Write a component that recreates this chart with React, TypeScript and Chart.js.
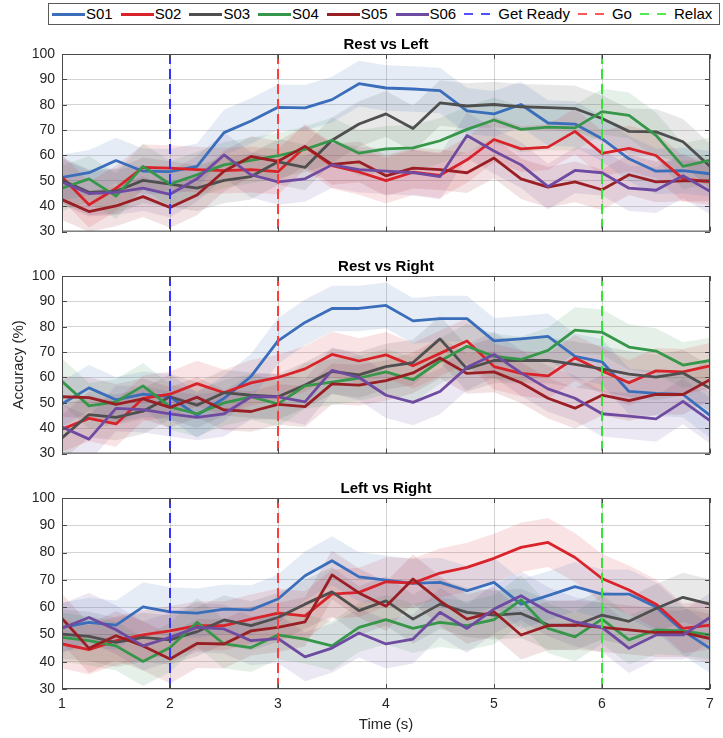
import React, { useEffect, useRef } from "react";
import { Chart, registerables } from "chart.js";
Chart.register(...registerables);

const FONT = '"Liberation Sans", Arial, Helvetica, sans-serif';
const TEXT = "#262626";

const TIMES = [1, 1.25, 1.5, 1.75, 2, 2.25, 2.5, 2.75, 3, 3.25, 3.5, 3.75, 4, 4.25, 4.5, 4.75, 5, 5.25, 5.5, 5.75, 6, 6.25, 6.5, 6.75, 7];
const SUBJECTS = ["S01", "S02", "S03", "S04", "S05", "S06"];
const COLORS = ["#3a6ebb", "#d9232b", "#4f4f4f", "#36964a", "#9a1f24", "#6e4aa0"];
const EVENT_LABELS = ["Get Ready", "Go", "Relax"];
const EVENT_TIMES = [2, 3, 6];
const EVENT_COLORS = ["#3333ff", "#ff3b3b", "#33e633"];
const PANEL_TITLES = ["Rest vs Left", "Rest vs Right", "Left vs Right"];

// Rest vs Left
const RL_S01 = [51.4, 53.2, 58, 53.8, 53.6, 55.7, 69, 73.6, 79, 78.8, 82, 88.3, 86.6, 86.2, 85.6, 77.6, 76.4, 80.1, 72.8, 72.4, 66.6, 58.7, 53.8, 54, 52.8];
const RL_S02 = [51.5, 40.6, 47, 55.3, 55, 54.4, 54, 54.4, 53.6, 63.4, 56, 53.5, 50.1, 53.4, 52.2, 58.3, 66.3, 62.6, 63.3, 69.5, 60.8, 62.8, 60, 50.8, 49.6];
const RL_S03 = [50.2, 45.5, 45.9, 50.2, 48.7, 47.1, 50.2, 51.7, 57.5, 55.3, 66, 72.4, 76.4, 70.6, 80.7, 79.5, 80.1, 79.2, 78.9, 78.5, 74.6, 69.5, 69.3, 65.4, 55.7];
const RL_S04 = [47.1, 50.8, 44, 55.7, 48.7, 52.4, 56.3, 58.1, 59.9, 62.4, 66, 60.9, 62.6, 63, 65.8, 70.3, 74, 70.3, 71.2, 70.9, 77.3, 75.8, 67.9, 55.7, 58.1];
const RL_S05 = [42.6, 37.9, 40.1, 43.8, 39.5, 44.4, 53.8, 59.6, 57.7, 63.6, 56.5, 57.5, 52, 55, 54.4, 53.2, 59, 50.8, 47.5, 49.6, 46.5, 52.4, 49.6, 50, 50];
const RL_S06 = [49.6, 45, 45.5, 47.1, 44.7, 50.8, 60.2, 52.4, 49.6, 50.8, 56.3, 54.4, 53.8, 53.2, 51.7, 67.9, 61.8, 56.3, 47.7, 54.1, 53.2, 47.1, 46.3, 52, 45.9];
const RL_SD = [9, 9, 9, 9, 8, 9];

// Rest vs Right
const RR_S01 = [49.6, 55.9, 51.2, 53.4, 52.4, 45.1, 51.8, 60.4, 74.4, 81.7, 87.2, 87.2, 88.4, 82.3, 83.2, 83.2, 74.4, 75.2, 76.2, 68.3, 66.2, 54.5, 53.7, 53.3, 45.1];
const RR_S02 = [39.6, 43.9, 41.7, 51.8, 53.4, 57.6, 54, 57.9, 60, 63.4, 69.1, 66.5, 68.9, 64.6, 69.5, 74.4, 64.3, 61.6, 60.6, 67.7, 62.6, 57.9, 62.6, 62.2, 64.6];
const RR_S03 = [36.2, 45.4, 44.3, 46.7, 52.4, 49.1, 54, 53, 52.4, 57, 62.4, 61, 64.3, 65.9, 75.2, 63.4, 66.7, 66.7, 66.7, 65.2, 63.4, 61.3, 60.1, 61.8, 55.7];
const RR_S04 = [58.5, 48.8, 50.4, 56.7, 48.4, 45.7, 50, 52.4, 49.6, 56.7, 58.2, 59.8, 62.2, 59.1, 66.5, 72.3, 68.3, 67.1, 70.7, 78.7, 77.8, 72, 70.4, 64.9, 66.7];
const RR_S05 = [52.4, 52.1, 49.4, 51.6, 48.2, 52.2, 47.2, 46.6, 49.4, 48.5, 57.5, 57, 58.8, 61.8, 67.7, 61.6, 62.2, 57.9, 51.8, 47.9, 53, 50.9, 53.3, 53.3, 59.1];
const RR_S06 = [40.5, 35.7, 47.8, 47.3, 45.7, 44.3, 45.7, 52.4, 52.4, 50.4, 62.8, 60, 53, 50.2, 54.5, 64, 69.1, 61.8, 55.5, 51.8, 45.7, 44.8, 43.7, 50.6, 43];
const RR_SD = [9, 9, 9, 9, 8, 9];

// Left vs Right
const LR_S01 = [52.6, 54.4, 53.4, 60.1, 58.3, 57.8, 59.3, 59, 63, 71.5, 77, 71.1, 69.9, 68.7, 69.1, 66, 69.1, 61.1, 64.2, 67.5, 64.8, 64.8, 60.1, 51.3, 44.9];
const LR_S02 = [46.5, 44.4, 47.7, 49.8, 51.3, 53.2, 53.2, 55.6, 57.8, 56.8, 64.8, 65.4, 69.3, 68.8, 72.5, 74.6, 77.9, 81.9, 83.7, 78.2, 70.5, 66.3, 61.1, 52.2, 53.4];
const LR_S03 = [50.1, 49.3, 47.1, 48.9, 48, 51, 55.3, 53.2, 56.2, 61.1, 65.6, 58.7, 62.3, 55.6, 61.1, 58.1, 57.1, 57.7, 53.5, 53.2, 57.1, 54.8, 59.5, 63.6, 61.1];
const LR_S04 = [48.9, 47.7, 45.8, 40.1, 45.2, 54.4, 46.5, 45.2, 49.8, 48.3, 45.8, 52.6, 55.4, 52.2, 54.4, 53.2, 55.4, 62.7, 52.2, 49.1, 55.6, 48, 51.7, 51.3, 49.8];
const LR_S05 = [55.9, 44.9, 49.5, 45.8, 41, 46.7, 46.5, 51.3, 52.6, 54.6, 71.8, 65.2, 60.3, 70.3, 62.3, 55.6, 58.3, 49.8, 53.2, 53.5, 52.6, 51.7, 50.7, 50.7, 48.5];
const LR_S06 = [52.3, 56.2, 51.7, 45.8, 48.9, 52.6, 52, 47.7, 48.5, 41.8, 45, 50.5, 46.5, 48.3, 58.1, 52.2, 59.3, 64.2, 58.3, 54.6, 52.6, 44.9, 49.8, 49.8, 56.2];
const LR_SD = [9, 9, 9, 9, 9, 9];

const PANELS = [
  { title: PANEL_TITLES[0], series: [RL_S01, RL_S02, RL_S03, RL_S04, RL_S05, RL_S06], sd: RL_SD },
  { title: PANEL_TITLES[1], series: [RR_S01, RR_S02, RR_S03, RR_S04, RR_S05, RR_S06], sd: RR_SD },
  { title: PANEL_TITLES[2], series: [LR_S01, LR_S02, LR_S03, LR_S04, LR_S05, LR_S06], sd: LR_SD },
];

function rgba(hex: string, a: number) {
  const n = parseInt(hex.slice(1), 16);
  return `rgba(${(n >> 16) & 255},${(n >> 8) & 255},${n & 255},${a})`;
}

const framePlugin = {
  id: "frame",
  afterDraw(chart: any, _args: any, opts: any) {
    const { ctx, chartArea: a, scales } = chart;
    ctx.save();
    ctx.strokeStyle = "#4a4a4a";
    ctx.lineWidth = 1;
    ctx.strokeRect(a.left + 0.5, a.top + 0.5, a.right - a.left - 1, a.bottom - a.top - 1);
    ctx.beginPath();
    for (let v = 1; v <= 7; v++) {
      const x = Math.round(scales.x.getPixelForValue(v)) + 0.5;
      ctx.moveTo(x, a.bottom); ctx.lineTo(x, a.bottom - 5);
      ctx.moveTo(x, a.top); ctx.lineTo(x, a.top + 5);
    }
    for (let v = 30; v <= 100; v += 10) {
      const y = Math.round(scales.y.getPixelForValue(v)) + 0.5;
      ctx.moveTo(a.left, y); ctx.lineTo(a.left + 5, y);
      ctx.moveTo(a.right, y); ctx.lineTo(a.right - 5, y);
    }
    ctx.stroke();
    ctx.fillStyle = "#000";
    ctx.font = `bold 15px ${FONT}`;
    ctx.textAlign = "center";
    ctx.textBaseline = "middle";
    ctx.fillText(opts.text, (a.left + a.right) / 2, a.top - 9);
    ctx.restore();
  },
};

function Panel({ idx, top }: { idx: number; top: number }) {
  const ref = useRef<HTMLCanvasElement>(null);
  const showX = idx === 2;
  const height = 30 + 191 + (showX ? 49 : 2);
  useEffect(() => {
    const p = PANELS[idx];
    const datasets: any[] = [];
    p.series.forEach((vals, k) => {
      datasets.push({
        data: TIMES.map((t, i) => ({ x: t, y: vals[i] + p.sd[k] })),
        borderWidth: 0, pointRadius: 0, fill: false, order: 20,
        borderColor: "transparent", backgroundColor: "transparent",
      });
      datasets.push({
        data: TIMES.map((t, i) => ({ x: t, y: vals[i] - p.sd[k] })),
        borderWidth: 0, pointRadius: 0, fill: "-1", order: 20,
        borderColor: "transparent", backgroundColor: rgba(COLORS[k], 0.13),
      });
    });
    p.series.forEach((vals, k) => {
      datasets.push({
        label: SUBJECTS[k],
        data: TIMES.map((t, i) => ({ x: t, y: vals[i] })),
        borderColor: COLORS[k], borderWidth: 2.8, pointRadius: 0, fill: false,
        order: 10 - k, tension: 0, borderJoinStyle: "round",
      });
    });
    EVENT_TIMES.forEach((t, k) => {
      datasets.push({
        label: EVENT_LABELS[k],
        data: [{ x: t, y: 100 }, { x: t, y: 30 }],
        borderColor: EVENT_COLORS[k], borderWidth: 2, borderDash: [10, 5],
        pointRadius: 0, fill: false, order: 0,
      });
    });
    const chart = new Chart(ref.current!, {
      type: "line",
      data: { datasets },
      plugins: [framePlugin],
      options: {
        animation: false,
        responsive: false,
        maintainAspectRatio: false,
        events: [],
        layout: { padding: { top: 30, right: 13, left: 0, bottom: showX ? 0 : 2 } },
        plugins: {
          legend: { display: false },
          tooltip: { enabled: false },
          title: { display: false },
          frame: { text: p.title },
        } as any,
        scales: {
          x: {
            type: "linear", min: 1, max: 7,
            ticks: { stepSize: 1, display: showX, padding: 7, color: TEXT, font: { size: 14, family: FONT }, maxRotation: 0 },
            grid: { color: "rgba(0,0,0,0.17)", drawTicks: false },
            border: { display: false },
            title: { display: showX, text: "Time (s)", color: TEXT, font: { size: 15, family: FONT }, padding: { top: 0, bottom: 4 } },
            afterFit: (s: any) => { s.height = showX ? 49 : 0; },
          },
          y: {
            min: 30, max: 100,
            ticks: { stepSize: 10, padding: 7, color: TEXT, font: { size: 14, family: FONT } },
            grid: { color: "rgba(0,0,0,0.17)", drawTicks: false },
            border: { display: false },
            title: { display: idx === 1, text: "Accuracy (%)", color: TEXT, font: { size: 15, family: FONT }, padding: { top: 10, bottom: 0 } },
            afterFit: (s: any) => { s.width = 62; },
          },
        } as any,
      },
    });
    return () => chart.destroy();
  }, [idx]);
  return (
    <canvas
      ref={ref}
      width={723}
      height={height}
      style={{ position: "absolute", left: 0, top, width: 723, height }}
    />
  );
}

function Legend() {
  const items = [
    ...SUBJECTS.map((s, k) => ({ label: s, color: COLORS[k], dashed: false })),
    ...EVENT_LABELS.map((s, k) => ({ label: s, color: EVENT_COLORS[k], dashed: true })),
  ];
  return (
    <div
      style={{
        position: "absolute", left: 48, top: 3, width: 672, height: 22, boxSizing: "border-box",
        border: "1px solid #5a5a5a", background: "#fff", display: "flex", alignItems: "center",
        paddingLeft: 3, fontFamily: FONT, fontSize: 15, color: "#000", whiteSpace: "nowrap", overflow: "hidden",
      }}
    >
      {items.map((it) => (
        <div key={it.label} style={{ display: "flex", alignItems: "center", marginRight: 8 }}>
          <div style={{ width: 34, height: 3, position: "relative" }}>
            {it.dashed ? (
              <>
                <div style={{ position: "absolute", left: 0, top: 0, width: 9, height: 2, background: it.color, opacity: 0.85 }} />
                <div style={{ position: "absolute", left: 17, top: 0, width: 9, height: 2, background: it.color, opacity: 0.85 }} />
              </>
            ) : (
              <div style={{ position: "absolute", left: 0, top: 0, width: 33, height: 3, background: it.color }} />
            )}
          </div>
          <span style={{ lineHeight: "18px" }}>{it.label}</span>
        </div>
      ))}
    </div>
  );
}

export default function App() {
  return (
    <div style={{ position: "absolute", left: 0, top: 0, width: 723, height: 738, background: "#fff", overflow: "hidden" }}>
      <Legend />
      <Panel idx={0} top={24} />
      <Panel idx={1} top={246} />
      <Panel idx={2} top={468} />
    </div>
  );
}
